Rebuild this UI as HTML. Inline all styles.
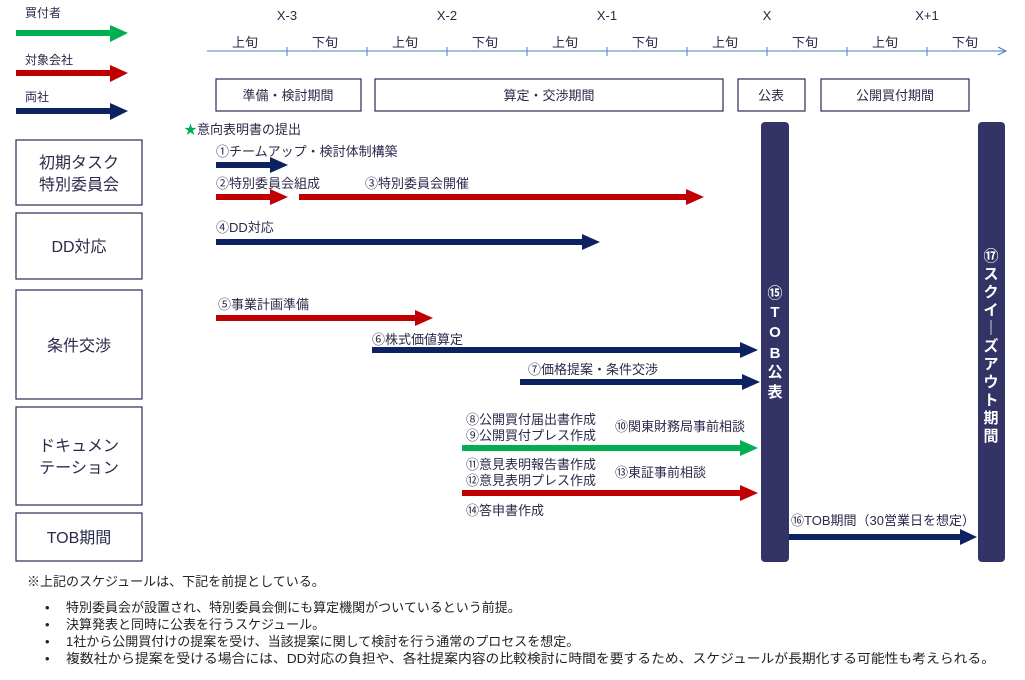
<!DOCTYPE html>
<html><head><meta charset="utf-8"><style>
html,body{margin:0;padding:0;background:#fff;width:1025px;height:680px;overflow:hidden}
svg{display:block}
text{font-family:"Liberation Sans","Noto Sans CJK JP",sans-serif;fill:#2a2a4a}
</style></head><body>
<svg width="1025" height="680" viewBox="0 0 1025 680" xmlns="http://www.w3.org/2000/svg">
<!-- legend -->
<g font-size="12">
<text x="25" y="17">買付者</text>
<text x="25" y="64">対象会社</text>
<text x="25" y="101">両社</text>
</g>
<rect x="16" y="30" width="96" height="6" fill="#00b050"/><polygon points="110,25 128,33 110,42" fill="#00b050"/>
<rect x="16" y="70" width="96" height="6" fill="#c00000"/><polygon points="110,65 128,73 110,82" fill="#c00000"/>
<rect x="16" y="108" width="96" height="6" fill="#0d2260"/><polygon points="110,103 128,111 110,120" fill="#0d2260"/>

<!-- timeline -->
<line x1="207" y1="51" x2="1005" y2="51" stroke="#4a7cc8" stroke-width="1"/>
<polyline points="998,47 1006,51 998,55" fill="none" stroke="#4a7cc8" stroke-width="1"/>
<g stroke="#4a7cc8"><line x1="287" y1="47" x2="287" y2="56"/><line x1="367" y1="47" x2="367" y2="56"/><line x1="447" y1="47" x2="447" y2="56"/><line x1="527" y1="47" x2="527" y2="56"/><line x1="607" y1="47" x2="607" y2="56"/><line x1="687" y1="47" x2="687" y2="56"/><line x1="767" y1="47" x2="767" y2="56"/><line x1="847" y1="47" x2="847" y2="56"/><line x1="927" y1="47" x2="927" y2="56"/></g>
<g font-size="13" text-anchor="middle">
<text x="287" y="20">X-3</text><text x="447" y="20">X-2</text><text x="607" y="20">X-1</text><text x="767" y="20">X</text><text x="927" y="20">X+1</text>
<text x="245" y="47">上旬</text><text x="325" y="47">下旬</text><text x="405" y="47">上旬</text><text x="485" y="47">下旬</text><text x="565" y="47">上旬</text><text x="645" y="47">下旬</text><text x="725" y="47">上旬</text><text x="805" y="47">下旬</text><text x="885" y="47">上旬</text><text x="965" y="47">下旬</text>
</g>
<!-- phase boxes -->
<g fill="none" stroke="#2a2a5a" stroke-width="1.2">
<rect x="216" y="79" width="145" height="32"/><rect x="375" y="79" width="348" height="32"/><rect x="738" y="79" width="67" height="32"/><rect x="821" y="79" width="148" height="32"/>
<rect x="16" y="140" width="126" height="65"/><rect x="16" y="213" width="126" height="66"/><rect x="16" y="290" width="126" height="109"/><rect x="16" y="407" width="126" height="98"/><rect x="16" y="513" width="126" height="48"/>
</g>
<g font-size="13" text-anchor="middle">
<text x="288" y="100">準備・検討期間</text><text x="549" y="100">算定・交渉期間</text><text x="771" y="100">公表</text><text x="895" y="100">公開買付期間</text>
</g>
<g font-size="16" text-anchor="middle">
<text x="79" y="168">初期タスク</text><text x="79" y="190">特別委員会</text>
<text x="79" y="252">DD対応</text>
<text x="79" y="351">条件交渉</text>
<text x="79" y="451">ドキュメン</text><text x="79" y="473">テーション</text>
<text x="79" y="543">TOB期間</text>
</g>
<!-- task labels -->
<g font-size="13">
<text x="184" y="134"><tspan fill="#00b050">★</tspan>意向表明書の提出</text>
<text x="216" y="156">①チームアップ・検討体制構築</text>
<text x="216" y="188">②特別委員会組成</text>
<text x="365" y="188">③特別委員会開催</text>
<text x="216" y="232">④DD対応</text>
<text x="218" y="309">⑤事業計画準備</text>
<text x="372" y="344">⑥株式価値算定</text>
<text x="528" y="374">⑦価格提案・条件交渉</text>
<text x="466" y="424">⑧公開買付届出書作成</text>
<text x="466" y="440">⑨公開買付プレス作成</text>
<text x="615" y="431">⑩関東財務局事前相談</text>
<text x="466" y="469">⑪意見表明報告書作成</text>
<text x="466" y="485">⑫意見表明プレス作成</text>
<text x="615" y="477">⑬東証事前相談</text>
<text x="466" y="515">⑭答申書作成</text>
<text x="791" y="525">⑯TOB期間（30営業日を想定）</text>
</g>
<!-- arrows -->
<rect x="216" y="162" width="56" height="6" fill="#0d2260"/><polygon points="270,157 288,165 270,173" fill="#0d2260"/>
<rect x="216" y="194" width="56" height="6" fill="#c00000"/><polygon points="270,189 288,197 270,205" fill="#c00000"/>
<rect x="299" y="194" width="389" height="6" fill="#c00000"/><polygon points="686,189 704,197 686,205" fill="#c00000"/>
<rect x="216" y="239" width="368" height="6" fill="#0d2260"/><polygon points="582,234 600,242 582,250" fill="#0d2260"/>
<rect x="216" y="315" width="201" height="6" fill="#c00000"/><polygon points="415,310 433,318 415,326" fill="#c00000"/>
<rect x="372" y="347" width="370" height="6" fill="#0d2260"/><polygon points="740,342 758,350 740,358" fill="#0d2260"/>
<rect x="520" y="379" width="224" height="6" fill="#0d2260"/><polygon points="742,374 760,382 742,390" fill="#0d2260"/>
<rect x="462" y="445" width="280" height="6" fill="#00b050"/><polygon points="740,440 758,448 740,456" fill="#00b050"/>
<rect x="462" y="490" width="280" height="6" fill="#c00000"/><polygon points="740,485 758,493 740,501" fill="#c00000"/>
<rect x="788" y="534" width="174" height="6" fill="#0d2260"/><polygon points="960,529 977,537 960,545" fill="#0d2260"/>
<!-- bars -->
<rect x="761" y="122" width="28" height="440" rx="4" fill="#333366"/>
<rect x="978" y="122" width="27" height="440" rx="4" fill="#333366"/>
<g font-size="15" font-weight="bold" text-anchor="middle">
<text x="775" y="298" style="fill:#fff">⑮</text><text x="775" y="317" style="fill:#fff">T</text><text x="775" y="337" style="fill:#fff">O</text><text x="775" y="358" style="fill:#fff">B</text><text x="775" y="377" style="fill:#fff">公</text><text x="775" y="397" style="fill:#fff">表</text>
<text x="991" y="261" style="fill:#fff">⑰</text><text x="991" y="279" style="fill:#fff">ス</text><text x="991" y="297" style="fill:#fff">ク</text><text x="991" y="315" style="fill:#fff">イ</text><text x="991" y="333" style="fill:#fff">｜</text><text x="991" y="351" style="fill:#fff">ズ</text><text x="991" y="369" style="fill:#fff">ア</text><text x="991" y="387" style="fill:#fff">ウ</text><text x="991" y="405" style="fill:#fff">ト</text><text x="991" y="423" style="fill:#fff">期</text><text x="991" y="441" style="fill:#fff">間</text>
</g>
<!-- notes -->
<g font-size="13">
<text x="27" y="586" style="fill:#222">※上記のスケジュールは、下記を前提としている。</text>
<text x="45" y="612" style="fill:#222">•</text><text x="66" y="612" style="fill:#222">特別委員会が設置され、特別委員会側にも算定機関がついているという前提。</text>
<text x="45" y="629" style="fill:#222">•</text><text x="66" y="629" style="fill:#222">決算発表と同時に公表を行うスケジュール。</text>
<text x="45" y="646" style="fill:#222">•</text><text x="66" y="646" style="fill:#222">1社から公開買付けの提案を受け、当該提案に関して検討を行う通常のプロセスを想定。</text>
<text x="45" y="663" style="fill:#222" >•</text><text x="66" y="663" style="fill:#222" textLength="929" lengthAdjust="spacingAndGlyphs">複数社から提案を受ける場合には、DD対応の負担や、各社提案内容の比較検討に時間を要するため、スケジュールが長期化する可能性も考えられる。</text>
</g>
</svg>
</body></html>
